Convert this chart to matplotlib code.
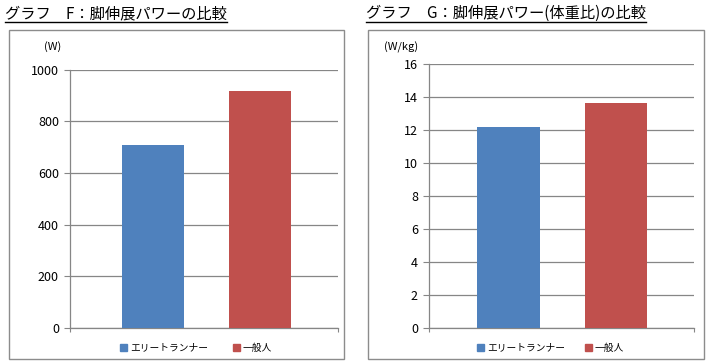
import matplotlib.pyplot as plt
from matplotlib.patches import Rectangle
from matplotlib.lines import Line2D

plt.rcParams['font.family'] = ['Noto Sans CJK JP', 'DejaVu Sans']

# データ
groups = ['エリートランナー', '一般人']
colors = ['#4F81BD', '#C0504D']
power_w = [707, 917]
power_wkg = [12.16, 13.65]

titles = ['グラフ　F：脚伸展パワーの比較', 'グラフ　G：脚伸展パワー(体重比)の比較']
units = ['(W)', '(W/kg)']
yticks_list = [list(range(0, 1001, 200)), list(range(0, 17, 2))]

W, H = 713, 364
fig = plt.figure(figsize=(W / 100, H / 100), dpi=100)

def fx(px):
    return px / W

def fy(py):
    return 1 - py / H

grid_c = '#868686'

panels = [
    dict(ax=(70, 328.1, 268, 258.5), frame=(9, 30, 344, 359), title_x=5,
         data=power_w, ylim=(0, 1000), xlim=(-0.776, 1.729), unit_x=53,
         leg=(120, 233)),
    dict(ax=(429, 328, 265, 264), frame=(367.5, 30, 704, 359), title_x=366,
         data=power_wkg, ylim=(0, 16), xlim=(-0.74, 1.725), unit_x=401,
         leg=(477, 585)),
]

for i, p in enumerate(panels):
    # 外枠
    fx0, fy0, fx1, fy1 = p['frame']
    fig.patches.append(Rectangle((fx(fx0), fy(fy1)), fx(fx1 - fx0), (fy1 - fy0) / H,
                                 transform=fig.transFigure, fill=False,
                                 edgecolor='#8c8c8c', linewidth=1.0))
    x0, yb, w, h = p['ax']
    ax = fig.add_axes([fx(x0), fy(yb), fx(w), h / H])
    ax.bar([0, 1], p['data'], width=0.58, color=colors, zorder=3)
    ax.set_ylim(*p['ylim'])
    ax.set_xlim(*p['xlim'])
    ax.set_yticks(yticks_list[i])
    ax.set_xticks(p['xlim'])
    ax.set_xticklabels([])
    ax.tick_params(axis='y', length=4, width=0.8, color=grid_c, labelsize=9, pad=4)
    ax.tick_params(axis='x', length=3, width=0.8, color=grid_c)
    ax.yaxis.grid(True, color=grid_c, linewidth=0.9, zorder=0)
    ax.set_axisbelow(True)
    for s in ['top', 'right']:
        ax.spines[s].set_visible(False)
    for s in ['left', 'bottom']:
        ax.spines[s].set_color(grid_c)
        ax.spines[s].set_linewidth(0.9)

    # 単位
    fig.text(fx(p['unit_x']), fy(47), units[i], fontsize=8, ha='center', va='center')

    # タイトル（下線付き）
    t = fig.text(fx(p['title_x']), fy(13.5), titles[i], fontsize=11, ha='left', va='center')
    fig.canvas.draw()
    bb = t.get_window_extent()
    fig.add_artist(Line2D([bb.x0 / W, bb.x1 / W], [fy(21.5), fy(21.5)],
                          transform=fig.transFigure, color='black', linewidth=1.0))

    # 凡例
    for k in range(2):
        lx = p['leg'][k]
        fig.patches.append(Rectangle((fx(lx), fy(351)), fx(7), 7 / H,
                                     transform=fig.transFigure, color=colors[k]))
        fig.text(fx(lx + 10), fy(347.5), groups[k], fontsize=7, ha='left', va='center')

plt.savefig('out.png', dpi=100)
